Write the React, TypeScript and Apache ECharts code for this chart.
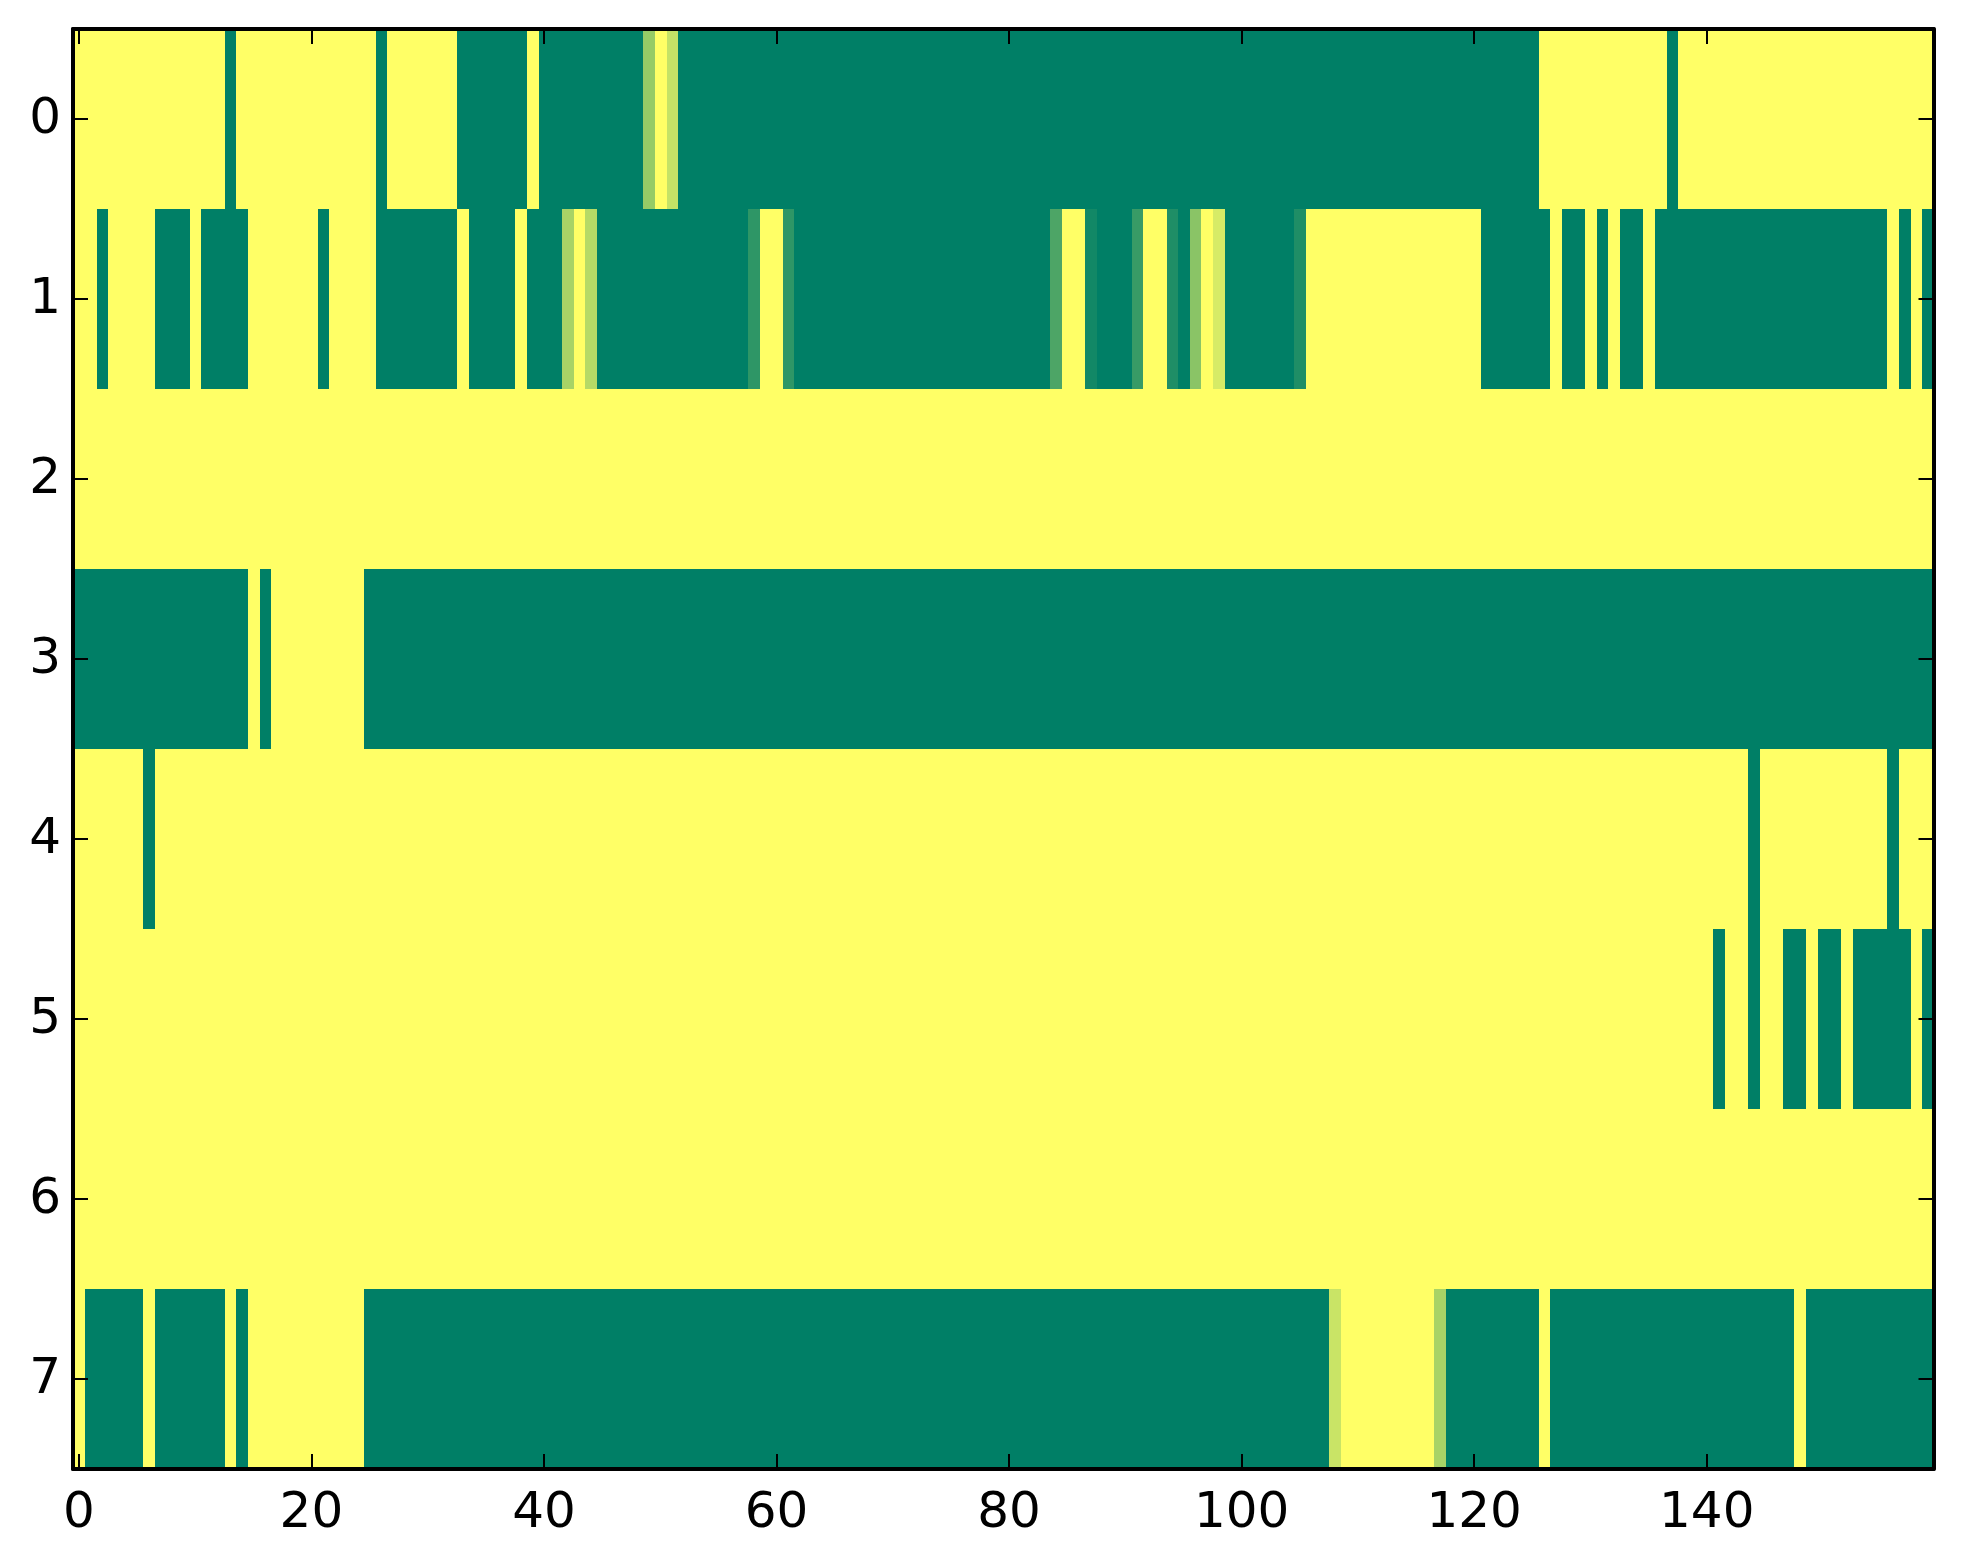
import React, { useEffect, useRef } from "react";
import * as echarts from "echarts";

const xCategories: string[] = Array.from({ length: 160 }, (_, i) => String(i));
const yCategories: string[] = ["0", "1", "2", "3", "4", "5", "6", "7"];
const rampColors: string[] = ["#ffff66", "#007f66"];

// Spans of fully green columns per row: [first, last]
const row0Spans = [[13, 13], [26, 26], [33, 38], [40, 48], [52, 125], [137, 137]];
const row1Spans = [[2, 2], [7, 9], [11, 14], [21, 21], [26, 32], [34, 37], [39, 41], [45, 57], [62, 83], [88, 90], [95, 95], [99, 104], [121, 126], [128, 129], [131, 131], [133, 134], [136, 155], [157, 157], [159, 159]];
const row2Spans: number[][] = [];
const row3Spans = [[0, 14], [16, 16], [25, 159]];
const row4Spans = [[6, 6], [144, 144], [156, 156]];
const row5Spans = [[141, 141], [144, 144], [147, 148], [150, 151], [153, 157], [159, 159]];
const row6Spans: number[][] = [];
const row7Spans = [[1, 5], [7, 12], [14, 14], [25, 107], [118, 125], [127, 147], [149, 159]];
const rowSpans = [row0Spans, row1Spans, row2Spans, row3Spans, row4Spans, row5Spans, row6Spans, row7Spans];

// Partial values: [row, column, value]
const partialCells = [
  [0, 49, 0.41], [0, 51, 0.23],
  [1, 42, 0.34], [1, 44, 0.29], [1, 58, 0.82], [1, 61, 0.82], [1, 84, 0.7], [1, 87, 0.93],
  [1, 91, 0.78], [1, 94, 0.88], [1, 96, 0.46], [1, 98, 0.16], [1, 105, 0.88],
  [7, 108, 0.21], [7, 117, 0.34],
];

const cells: number[][] = [];
rowSpans.forEach((spans, row) => {
  for (let col = 0; col < 160; col++) {
    const full = spans.some(([a, b]) => col >= a && col <= b);
    const partial = partialCells.find((c) => c[0] === row && c[1] === col);
    cells.push([col, row, partial ? partial[2] : full ? 1 : 0]);
  }
});

const FONT = "'DejaVu Sans'";

function xAxis(position: string, labels: boolean) {
  return {
    type: "category",
    position,
    data: xCategories,
    boundaryGap: true,
    z: 10,
    axisLine: { show: true, onZero: false, lineStyle: { color: "#000", width: 4 } },
    axisTick: { show: true, inside: true, length: 15, interval: 19, alignWithLabel: true, lineStyle: { color: "#000", width: 2 } },
    axisLabel: { show: labels, interval: 19, margin: 16, color: "#000", fontSize: 50, fontFamily: FONT },
    splitLine: { show: false },
  };
}

function yAxis(position: string, labels: boolean) {
  return {
    type: "category",
    position,
    inverse: true,
    data: yCategories,
    boundaryGap: true,
    z: 10,
    axisLine: { show: true, onZero: false, lineStyle: { color: "#000", width: 4 } },
    axisTick: { show: true, inside: true, length: 15, alignWithLabel: true, lineStyle: { color: "#000", width: 2 } },
    axisLabel: { show: labels, interval: 0, margin: 12, color: "#000", fontSize: 50, fontFamily: FONT, verticalAlign: "bottom", lineHeight: 6 },
    splitLine: { show: false },
  };
}

function renderCell(_params: any, api: any) {
  const c = api.coord([api.value(0), api.value(1)]);
  const s = api.size([1, 1]);
  const x0 = Math.round(c[0] - s[0] / 2 + 0.5);
  const x1 = Math.round(c[0] + s[0] / 2 + 0.5);
  const y0 = Math.round(c[1] - s[1] / 2);
  const y1 = Math.round(c[1] + s[1] / 2);
  return {
    type: "rect",
    shape: { x: x0, y: y0, width: x1 - x0, height: y1 - y0 },
    style: { fill: echarts.color.lerp(api.value(2), rampColors), opacity: 1 },
  };
}

export default function App() {
  const ref = useRef<HTMLDivElement>(null);
  useEffect(() => {
    const chart = echarts.init(ref.current!, null, { renderer: "svg" });
    chart.setOption({
      animation: false,
      backgroundColor: "#fff",
      grid: { left: 73, right: 29.5, top: 29, bottom: 95 },
      xAxis: [xAxis("bottom", true), xAxis("top", false)],
      yAxis: [yAxis("left", true), yAxis("right", false)],
      series: [
        {
          type: "custom",
          coordinateSystem: "cartesian2d",
          xAxisIndex: 0,
          yAxisIndex: 0,
          renderItem: renderCell,
          encode: { x: 0, y: 1 },
          data: cells,
          progressive: 0,
          silent: true,
        },
      ],
    });
    return () => chart.dispose();
  }, []);
  return <div ref={ref} style={{ position: "absolute", left: 0, top: 0, width: 1963, height: 1564 }} />;
}
